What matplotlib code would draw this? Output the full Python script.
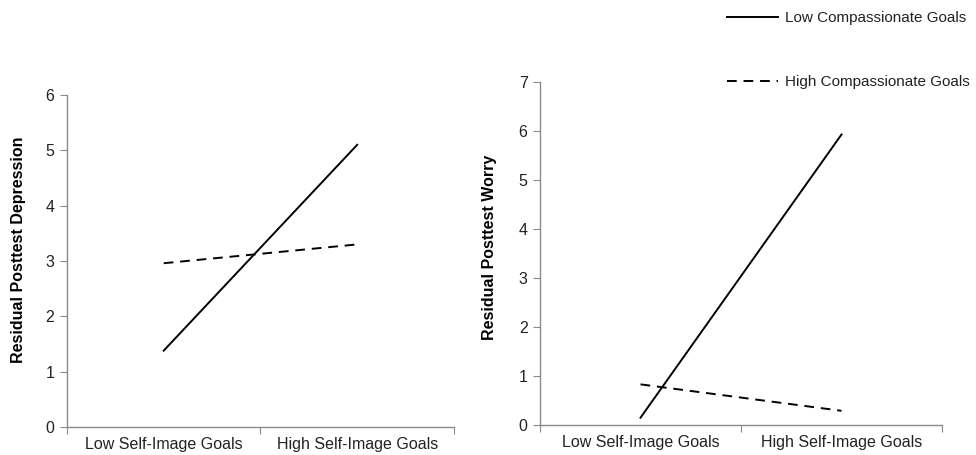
import numpy as np
import matplotlib.pyplot as plt

plt.rcParams['font.family'] = ['Liberation Sans', 'DejaVu Sans']

categories = ['Low Self-Image Goals', 'High Self-Image Goals']
series_names = ['Low Compassionate Goals', 'High Compassionate Goals']

# left panel: depression
depression_low_comp = [1.38, 5.10]
depression_high_comp = [2.96, 3.30]

# right panel: worry
worry_low_comp = [0.15, 5.93]
worry_high_comp = [0.83, 0.29]

fig = plt.figure(figsize=(9.76, 4.55), dpi=100)
ax1 = fig.add_axes([0.0686, 0.0615, 0.3965, 0.7297])
ax2 = fig.add_axes([0.5533, 0.0659, 0.4119, 0.7538])

x = np.arange(len(categories))


def style_panel(ax, ymax, ylabel, label_xy):
    ax.set_xlim(-0.5, 1.5)
    ax.set_ylim(0, ymax)
    ax.set_yticks(range(ymax + 1))
    for side in ['top', 'right']:
        ax.spines[side].set_visible(False)
    for side in ['left', 'bottom']:
        ax.spines[side].set_color('#8a8a8a')
        ax.spines[side].set_linewidth(1.0)
    ax.set_xticks([-0.5, 0.5, 1.5])
    ax.set_xticklabels([])
    ax.set_xticks(x, minor=True)
    ax.set_xticklabels(categories, minor=True)
    ax.tick_params(axis='x', which='minor', length=0, pad=7, labelsize=11.5, labelcolor='#222222')
    ax.tick_params(axis='x', which='major', length=5, color='#8a8a8a', direction='out')
    ax.tick_params(axis='y', length=5, color='#8a8a8a', labelsize=11.5, labelcolor='#222222', pad=4)
    ax.set_ylabel(ylabel, fontsize=11.5, fontweight='bold')
    ax.yaxis.set_label_coords(*label_xy)


ax1.plot(x, depression_low_comp, color='black', lw=1.4, label=series_names[0])
ax1.plot(x, depression_high_comp, color='black', lw=1.4, dashes=(5, 3.5), label=series_names[1])
style_panel(ax1, 6, 'Residual Posttest Depression', (-0.106, 0.535))

l1, = ax2.plot(x, worry_low_comp, color='black', lw=1.4, label=series_names[0])
l2, = ax2.plot(x, worry_high_comp, color='black', lw=1.4, dashes=(5, 3.5), label=series_names[1])
style_panel(ax2, 7, 'Residual Posttest Worry', (-0.108, 0.519))

fig.legend(handles=[l1, l2], loc='upper left', bbox_to_anchor=(727 / 976, 1 - 11 / 455),
           frameon=False, fontsize=11, labelspacing=3.3, handlelength=3.35,
           handletextpad=0.45, borderpad=0, borderaxespad=0, labelcolor='#222222')

fig.savefig('out.png', dpi=100)
